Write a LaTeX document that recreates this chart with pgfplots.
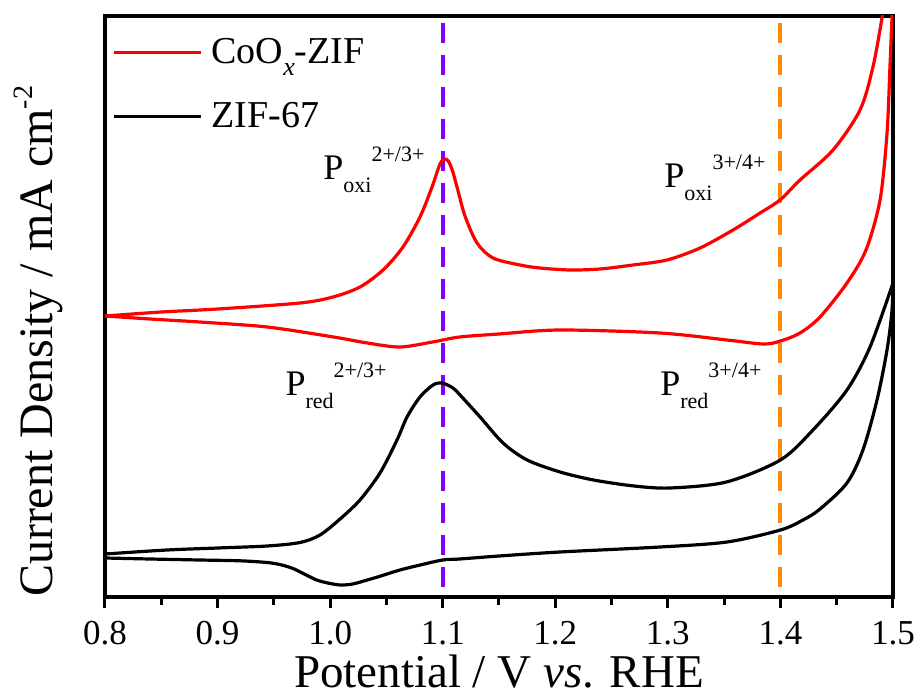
\documentclass[border=0pt]{standalone}
\usepackage{fontspec}
\setmainfont{Liberation Serif}
\usepackage{pgfplots}
\pgfplotsset{compat=1.18}
\definecolor{cvred}{RGB}{255,0,0}
\definecolor{vline}{RGB}{128,0,255}
\definecolor{oline}{RGB}{255,140,0}
\newcommand{\plab}[2]{{\fontsize{18}{18}\selectfont P}\raisebox{-6.5pt}{\fontsize{11}{11}\selectfont #1}\raisebox{9pt}{\fontsize{11}{11}\selectfont #2}}
\begin{document}
\begin{tikzpicture}
\useasboundingbox (-52.5pt,-50pt) rectangle (408pt,298.5pt);
\begin{axis}[
  at={(0,0)}, anchor=south west,
  scale only axis, width=394pt, height=290.5pt,
  xmin=0.8, xmax=1.5, ymin=0, ymax=581,
  axis line style={line width=1.6pt},
  xtick={0.8,0.9,1.0,1.1,1.2,1.3,1.4,1.5},
  minor x tick num=1,
  ytick=\empty,
  xtick pos=bottom,
  tick align=outside,
  major tick length=5.5pt, minor tick length=4pt,
  every tick/.style={line width=1.5pt, black},
  /pgf/number format/assume math mode=true,
  xticklabel style={/pgf/number format/fixed, /pgf/number format/fixed zerofill, /pgf/number format/precision=1, font=\fontsize{17.5}{17.5}\selectfont, yshift=-3pt},
  xlabel={Potential / V \textit{vs}. RHE},
  xlabel style={at={(axis description cs:0.5,-0.1549)}, anchor=base, font=\fontsize{23.5}{23.5}\selectfont},
  ylabel={Current Density / mA cm\raisebox{10pt}{\fontsize{14}{14}\selectfont -2}},
  ylabel style={at={(axis description cs:-0.066,0.44)}, anchor=base, font=\fontsize{24}{24}\selectfont},
  legend style={at={(axis description cs:0,1)}, anchor=north west, draw=none, fill=none,
    font=\fontsize{19}{19}\selectfont, row sep=14pt, column sep=2.5pt, inner xsep=3.5pt, inner ysep=9pt},
  legend cell align=left,
  legend image code/.code={\draw[#1] (0pt,0pt) -- (43.5pt,0pt);},
  clip=true,
]
% dashed reference lines
\addplot[vline, line width=2pt, dash pattern=on 10pt off 6pt, forget plot] coordinates {(1.1,574) (1.1,0)};
\addplot[oline, line width=2pt, dash pattern=on 10pt off 6pt, forget plot] coordinates {(1.4,574) (1.4,0)};
% CoOx-ZIF forward
\addplot[cvred, line width=1.6pt, smooth] coordinates {
(0.800,281) (0.850,285) (0.900,288) (0.9732,294) (1.0025,300) (1.0265,310) (1.0470,327) (1.0647,350) (1.0798,380) (1.0905,410) (1.0976,433) (1.1020,438) (1.1055,435) (1.1090,425) (1.1127,410) (1.1198,381) (1.1305,354) (1.1447,339) (1.1687,332) (1.1864,329) (1.213,327) (1.2397,328) (1.2690,332) (1.2992,337) (1.3286,349) (1.3579,367) (1.3819,384) (1.3996,397) (1.4174,417) (1.4467,447) (1.4707,487) (1.4822,530) (1.4902,579) (1.4925,600)
};
\addlegendentry{CoO\raisebox{-6pt}{\fontsize{13}{13}\selectfont\itshape x}-ZIF}
% ZIF-67 forward
\addplot[black, line width=1.6pt, smooth] coordinates {
(0.800,43) (0.855,47) (0.900,49) (0.944,51) (0.9732,54.5) (0.9910,62) (1.0088,78) (1.0265,97) (1.0443,124) (1.0594,157) (1.0683,180) (1.0798,200) (1.0914,212) (1.0994,214) (1.1091,209) (1.1154,202) (1.1332,180) (1.1536,154) (1.1750,137) (1.2043,125) (1.234,117) (1.270,111) (1.302,109) (1.352,115) (1.400,137) (1.4289,167) (1.4591,207) (1.4796,250) (1.5,314)
};
\addlegendentry{ZIF-67}
% CoOx-ZIF return
\addplot[cvred, line width=1.6pt, smooth, forget plot] coordinates {
(1.4998,600) (1.4991,579) (1.4973,530) (1.4947,464) (1.4885,397) (1.476,347) (1.4591,314) (1.4352,280) (1.4174,264) (1.400,256) (1.385,253) (1.3525,257) (1.293,264) (1.204,267) (1.150,263) (1.115,260) (1.091,255) (1.0621,250) (1.033,254) (1.003,260) (0.944,270) (0.884,275) (0.84,278) (0.80,281)
};
% ZIF-67 return
\addplot[black, line width=1.6pt, smooth, forget plot] coordinates {
(1.5,314) (1.4990,285) (1.4947,247) (1.4858,197) (1.4733,147) (1.4591,114) (1.4352,88) (1.4200,77) (1.4000,67) (1.3525,55) (1.293,50) (1.204,45) (1.150,41) (1.115,38) (1.100,37) (1.080,32) (1.062,27) (1.045,21) (1.033,17) (1.020,13) (1.009,12) (0.998,14) (0.988,17) (0.977,23) (0.967,28.5) (0.956,32.3) (0.944,34.5) (0.920,36.2) (0.884,37) (0.84,38) (0.80,39)
};
% annotations
\node[anchor=base west, inner sep=0pt] at (axis cs:0.9937,417) {\plab{oxi}{2+/3+}};
\node[anchor=base west, inner sep=0pt] at (axis cs:1.2966,409) {\plab{oxi}{3+/4+}};
\node[anchor=base west, inner sep=0pt] at (axis cs:0.960,202) {\plab{red}{2+/3+}};
\node[anchor=base west, inner sep=0pt] at (axis cs:1.293,202) {\plab{red}{3+/4+}};
\end{axis}
\end{tikzpicture}
\end{document}
